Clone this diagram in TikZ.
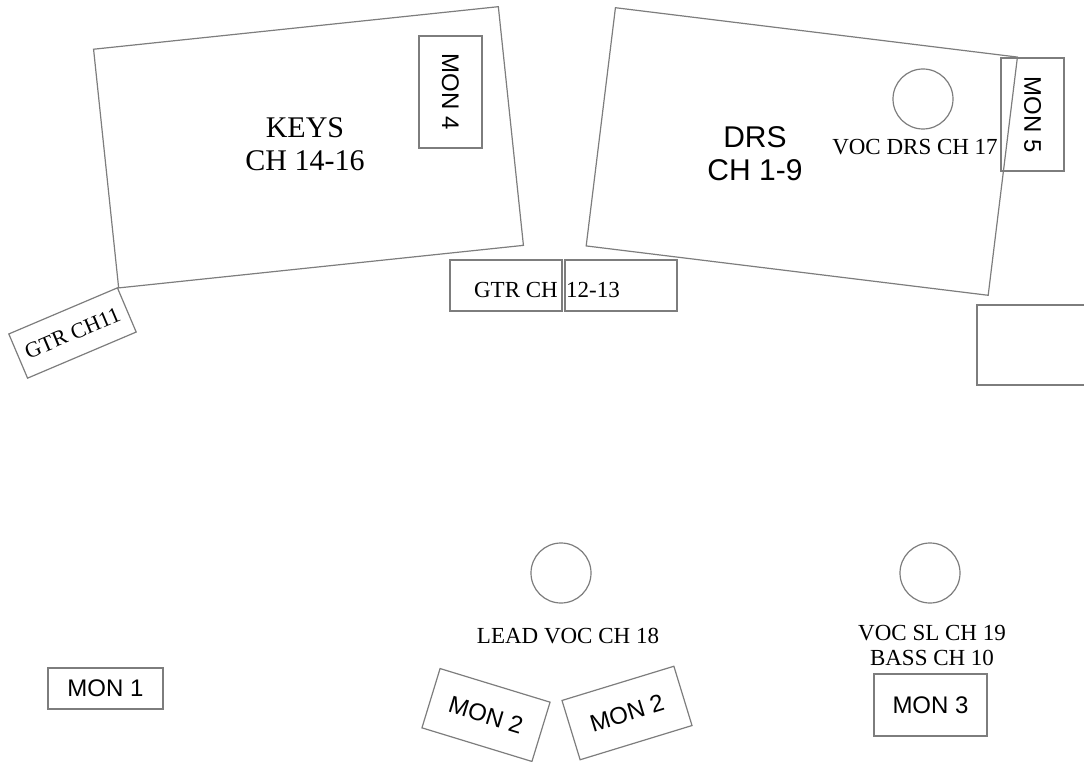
\documentclass[tikz,border=0pt]{standalone}
\usepackage{fontspec}
\setmainfont{Liberation Serif}
\newfontfamily\sansarial{Liberation Sans}
\definecolor{linegray}{RGB}{125,125,125}
\begin{document}
\begin{tikzpicture}[x=1pt,y=-1pt,
  outline/.style={draw=linegray, line width=1.2pt},
  area/.style={outline, rectangle, inner sep=0pt},
  mon/.style={outline, rectangle, inner sep=0pt, font=\sansarial\fontsize{24}{27}\selectfont},
  serif/.style={inner sep=1pt, font=\fontsize{23}{25}\selectfont},
  big/.style={inner sep=1pt, align=center, font=\fontsize{30}{33}\selectfont},
  bigsans/.style={inner sep=1pt, align=center, font=\sansarial\fontsize{30}{33}\selectfont},
  mic/.style={outline, circle, minimum size=60pt, inner sep=0pt}]
\useasboundingbox (0,0) rectangle (1084,762);
\clip (0,0) rectangle (1084,762);
% keys riser
\node[area, minimum width=407pt, minimum height=240pt, rotate=6] (keys) at (308.5,147.3) {};
\node[big] (keyslbl) at (305,144) {KEYS\\CH 14-16};
\node[mon, minimum width=112pt, minimum height=63pt, rotate=-90] (mon4) at (450.5,92) {MON 4};
% drum riser
\node[area, minimum width=405pt, minimum height=240pt, rotate=-7] (drs) at (801.8,151.5) {};
\node[bigsans] (drslbl) at (755,154) {DRS\\CH 1-9};
\node[mic] (vocdrs) at (923,99) {};
\node[serif] (vocdrslbl) at (915,147) {VOC DRS CH 17};
\node[mon, minimum width=113pt, minimum height=63pt, rotate=-90] (mon5) at (1032.5,114.5) {MON 5};
% guitars
\node[area, minimum width=118pt, minimum height=48pt, rotate=23, font=\fontsize{22}{24}\selectfont] (gtr11) at (72.5,333) {GTR CH11};
\node[area, minimum width=112pt, minimum height=51pt] (gtrL) at (506,285.5) {};
\node[area, minimum width=112pt, minimum height=51pt] (gtrR) at (621,285.5) {};
\node[serif, anchor=east] (gtrlblA) at (559,290) {GTR CH};
\node[serif, anchor=west] (gtrlblB) at (565,290) {12-13};
% side box
\node[area, minimum width=113pt, minimum height=80pt] (amp) at (1033.5,345) {};
% front line
\node[mic] (leadmic) at (561,573) {};
\node[serif] (leadlbl) at (568,636) {LEAD VOC CH 18};
\node[mic] (slmic) at (930,573) {};
\node[serif, align=center] (sllbl) at (932,645) {VOC SL CH 19\\BASS CH 10};
\node[mon, minimum width=115pt, minimum height=41pt] (mon1) at (105.5,688.5) {MON 1};
\node[mon, minimum width=115pt, minimum height=62pt, rotate=-17] (mon2a) at (486,715) {MON 2};
\node[mon, minimum width=117pt, minimum height=62pt, rotate=17] (mon2b) at (627,713) {MON 2};
\node[mon, minimum width=113pt, minimum height=62pt] (mon3) at (930.5,705) {MON 3};
\end{tikzpicture}
\end{document}
